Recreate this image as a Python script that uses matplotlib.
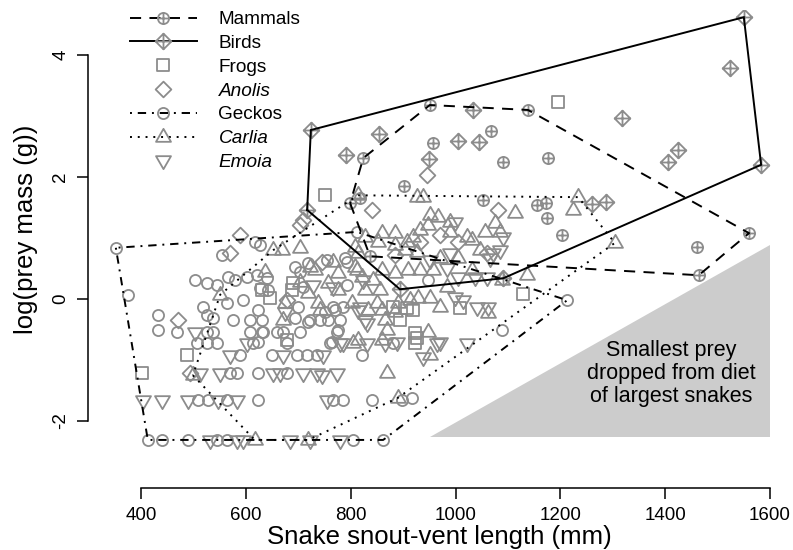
import numpy as np
import matplotlib
matplotlib.use("Agg")
import matplotlib.pyplot as plt
from matplotlib.path import Path
from matplotlib.lines import Line2D

plt.rcParams["font.family"] = ["Liberation Sans", "DejaVu Sans"]
plt.rcParams["lines.scale_dashes"] = False

# ---- data: snake snout-vent length (mm) vs log prey mass (g) ----
mammal_x = [951, 1138, 1560, 1464, 1461, 824, 1068, 957, 1091, 1176, 902, 1052,
            1155, 1173, 1175, 1203, 818, 799, 837]
mammal_y = [3.18, 3.10, 1.08, 0.39, 0.85, 2.31, 2.75, 2.56, 2.25, 2.31, 1.85, 1.62,
            1.54, 1.57, 1.33, 1.05, 1.66, 1.57, 0.70]

bird_x = [724, 717, 894, 1091, 1583, 1550, 1524, 1318, 1424, 1405, 1260, 1287,
          854, 791, 1033, 1005, 1045, 950]
bird_y = [2.77, 1.46, 0.16, 0.34, 2.20, 4.62, 3.79, 2.97, 2.44, 2.25, 1.56, 1.59,
          2.70, 2.36, 3.10, 2.59, 2.57, 2.30]

frog_x = [1196, 751, 1129, 402, 488, 646, 690, 881, 894, 923, 923, 688, 679,
          907, 919, 1009, 927, 631]
frog_y = [3.23, 1.70, 0.08, -1.21, -0.92, 0.02, 0.26, -0.13, -0.34, -0.56, -0.72,
          0.15, -0.67, -0.15, -0.18, -0.15, -0.64, 0.15]

anolis_x = [589, 570, 703, 709, 841, 946, 471, 679, 745, 970, 1081, 1005, 1060,
            932, 493, 885]
anolis_y = [1.05, 0.75, 1.21, 1.30, 1.46, 2.03, -0.34, -0.02, 0.61, 1.05, 1.46,
            0.93, 0.75, 0.93, -1.21, 0.72]

gecko_x = [352, 812, 1213, 862, 413, 375, 440, 490, 545, 564, 804,
           617, 627, 555, 503, 526, 545, 566, 579, 602, 621, 640, 627, 642,
           432, 432, 469, 518, 526, 526, 537, 507, 526, 545,
           570, 583, 623, 679,
           509, 528, 564, 623, 766, 785, 841, 898, 917,
           709, 793, 703, 793, 700, 766, 785,
           537, 576, 608, 694, 719, 741, 757, 780,
           608, 633, 659, 671, 703, 774,
           614, 679, 761, 881,
           589, 650, 698, 717, 736, 822,
           751, 770, 722, 789, 755, 719, 694,
           623, 631, 631, 623, 776, 764, 1089, 948, 595, 564]
gecko_y = [0.84, 1.10, -0.02, -2.31, -2.31, 0.07, -2.31, -2.31, -2.31, -2.31, -2.31,
           0.93, 0.89, 0.72, 0.31, 0.26, 0.23, 0.36, 0.31, 0.36, 0.39, 0.34, 0.18, 0.15,
           -0.26, -0.51, -0.54, -0.13, -0.26, -0.54, -0.54, -0.72, -0.72, -0.72,
           -1.21, -1.21, -1.21, -1.21,
           -1.66, -1.66, -1.66, -1.66, -1.66, -1.66, -1.66, -1.66, -1.62,
           0.20, 0.23, 0.44, 0.61, -0.13, -0.13, -0.13,
           -0.31, -0.34, -0.34, -0.31, -0.38, -0.34, -0.34, -0.34,
           -0.54, -0.54, -0.54, -0.54, -0.54, -0.54,
           -0.72, -0.72, -0.72, -0.72,
           -0.92, -0.92, -0.92, -0.92, -0.92, -0.92,
           -0.21, -0.18, -0.34, 0.67, 0.64, 0.59, 0.52,
           -0.18, -0.34, -0.54, -0.70, -0.51, -0.70, -0.51, 0.31, -0.02, -0.07]

carlia_x = [814, 1234, 1304, 890, 719, 617, 499, 551, 652, 669, 703,
            927, 938, 1224, 1113, 869, 860, 804, 951, 850, 913, 865, 869, 814,
            833, 860, 885, 970, 1062, 948,
            951, 967, 989, 948, 932, 919, 907, 989, 1022, 1031, 1056, 1075, 1085,
            1047, 1005, 970, 904, 927, 909, 932, 957, 1031, 1089, 1136, 929, 951, 984,
            827, 860, 885, 852, 885, 808, 814, 722, 766, 812, 843, 732, 776, 808,
            637, 703, 757, 822, 860, 885, 719, 776, 827, 856, 675, 738, 803, 890,
            671, 741]
carlia_y = [1.70, 1.67, 0.92, -1.62, -2.31, -2.31, -1.25, 0.07, 0.80, 0.80, 0.84,
            1.67, 1.67, 1.46, 1.41, -1.21, -0.67, -0.72, -0.92, -0.07, -0.02, -0.34,
            -0.51, -0.67, -0.18, -0.18, -0.21, -0.13, -0.23, -0.54,
            1.38, 1.34, 1.26, 1.21, 1.13, 1.02, 0.93, 1.10, 1.02, 0.97, 1.10, 1.25, 1.10,
            0.80, 0.67, 0.67, 0.80, 0.77, 0.48, 0.48, 0.48, 0.48, 0.31, 0.39, 0.02, 0.02, 0.20,
            1.02, 1.08, 1.08, 0.93, 0.89, 0.85, 0.75, 0.52, 0.61, 0.48, 0.31, 0.48, 0.43, 0.52,
            0.44, 0.28, 0.26, 0.36, 0.48, 0.43, 0.10, 0.15, 0.15, 0.15, -0.07, -0.07, -0.07, -0.07,
            -0.34, -0.18]

emoia_x = [503, 824, 766, 728, 818, 831, 602, 780, 831, 965, 570, 671, 747,
           513, 551, 652, 665, 709, 736, 774, 745,
           404, 440, 490, 547, 583, 755,
           532, 583, 595, 684, 722, 780,
           675, 814, 827, 785, 865, 888,
           984, 1005, 1037, 1060, 1014, 1041, 1062, 999, 970, 1022, 938,
           989, 951, 1072, 1085, 1066, 1091, 999]
emoia_y = [-0.54, 0.31, 0.20, 0.23, -0.13, -0.39, -0.72, -0.72, -0.72, -0.72, -0.92, -0.92, -0.92,
           -1.21, -1.21, -1.21, -1.21, -1.21, -1.21, -1.21, -1.25,
           -1.66, -1.66, -1.66, -1.66, -1.66, -1.66,
           -2.31, -2.31, -2.31, -2.31, -2.31, -2.31,
           -0.21, -0.18, -0.34, -0.72, -0.72, -0.70,
           0.51, 0.36, 0.36, 0.36, -0.02, -0.13, -0.13, 0.03, -0.70, -0.72, -0.95,
           0.75, 0.64, 0.75, 0.80, 0.67, 1.02, 1.26]

# region of prey too small to be eaten by the largest snakes
shade_x = [951, 1600, 1600]
shade_y = [-2.26, -2.26, 0.89]

x_ticks = [400, 600, 800, 1000, 1200, 1400, 1600]
y_ticks = [-2, 0, 2, 4]

# ---- symbols (sizes in units of the circle radius, as in base-graphics pch) ----
def closed(pts):
    pts = list(pts) + [pts[0]]
    codes = [Path.MOVETO] + [Path.LINETO] * (len(pts) - 2) + [Path.CLOSEPOLY]
    return Path(pts, codes)

def seg(a, b):
    return Path([a, b], [Path.MOVETO, Path.LINETO])

s2 = np.sqrt(2)
t0, t1, t2 = 1.5551203, 1.5551203 * np.sqrt(3) / 2, 1.5551203 / 2
sym_circle = Path.unit_circle()
sym_square = closed([(-1, -1), (1, -1), (1, 1), (-1, 1)])
sym_tri_up = closed([(0, t0), (t1, -t2), (-t1, -t2)])
sym_tri_dn = closed([(0, -t0), (t1, t2), (-t1, t2)])
sym_diamond = closed([(0, s2), (s2, 0), (0, -s2), (-s2, 0)])
sym_diamond_plus = Path.make_compound_path(sym_diamond, seg((-s2, 0), (s2, 0)),
                                           seg((0, -s2), (0, s2)))
sym_circle_plus = Path.make_compound_path(sym_circle, seg((-1, 0), (1, 0)),
                                          seg((0, -1), (0, 1)))

R_PT = 4.0          # circle radius in points
GREY = "#8c8c8c"
MEW = 1.3

def msize(p):
    return 2 * R_PT * np.abs(p.vertices).max()

def hull(xs, ys):
    pts = sorted(set(zip(xs, ys)))
    def cross(o, a, b):
        return (a[0] - o[0]) * (b[1] - o[1]) - (a[1] - o[1]) * (b[0] - o[0])
    lower, upper = [], []
    for p in pts:
        while len(lower) >= 2 and cross(lower[-2], lower[-1], p) <= 0:
            lower.pop()
        lower.append(p)
    for p in reversed(pts):
        while len(upper) >= 2 and cross(upper[-2], upper[-1], p) <= 0:
            upper.pop()
        upper.append(p)
    h = lower[:-1] + upper[:-1]
    h.append(h[0])
    return [p[0] for p in h], [p[1] for p in h]

groups = [
    ("Mammals", mammal_x, mammal_y, sym_circle_plus, (0, (8, 6)), False),
    ("Birds", bird_x, bird_y, sym_diamond_plus, "-", False),
    ("Frogs", frog_x, frog_y, sym_square, None, False),
    ("Anolis", anolis_x, anolis_y, sym_diamond, None, True),
    ("Geckos", gecko_x, gecko_y, sym_circle, (0, (1.4, 4.2, 6, 4.2)), False),
    ("Carlia", carlia_x, carlia_y, sym_tri_up, (0, (1.4, 4.2)), True),
    ("Emoia", emoia_x, emoia_y, sym_tri_dn, None, True),
]

fig = plt.figure(figsize=(7.93, 5.5), dpi=100)
ax = fig.add_axes([88 / 793, 62 / 550, (790 - 88) / 793, (488 - 10) / 550])
ax.set_xlim(298.9, 1638.1)
ax.set_ylim(-3.098, 4.738)

ax.fill(shade_x, shade_y, color="#cccccc", lw=0, zorder=1)
ax.text(1411, -1.22, "Smallest prey\ndropped from diet\nof largest snakes",
        ha="center", va="center", fontsize=15.5, linespacing=1.13, zorder=2)

LW = 1.4
handles = []
for name, xs, ys, sym, ls, ital in groups:
    ax.plot(xs, ys, ls="none", marker=sym, ms=msize(sym), mfc="none",
            mec=GREY, mew=MEW, zorder=3)
for name, xs, ys, sym, ls, ital in groups:
    if ls is not None:
        hx, hy = hull(xs, ys)
        ax.plot(hx, hy, color="black", lw=LW, ls=ls, zorder=4,
                solid_joinstyle="miter", dash_capstyle="butt")
    handles.append(Line2D([], [], color="black", lw=LW if ls else 0,
                          ls=ls if ls else "none", marker=sym, ms=msize(sym),
                          mfc="none", mec=GREY, mew=MEW, label=name))

leg = fig.legend(handles=handles, loc="upper left",
                 bbox_to_anchor=(130 / 793, 1 - 11 / 550), frameon=False,
                 fontsize=13.7, handlelength=3.5, handletextpad=1.15,
                 labelspacing=0.34, borderpad=0, borderaxespad=0)
for txt, g in zip(leg.get_texts(), groups):
    if g[5]:
        txt.set_fontstyle("italic")

for side in ("top", "right"):
    ax.spines[side].set_visible(False)
ax.spines["left"].set_bounds(-2, 4)
ax.spines["bottom"].set_bounds(400, 1600)
for side in ("left", "bottom"):
    ax.spines[side].set_linewidth(1.1)
ax.set_xticks(x_ticks)
ax.set_yticks(y_ticks)
ax.set_xticklabels([str(v) for v in x_ticks])
ax.set_yticklabels([str(v) for v in y_ticks])
ax.tick_params(axis="both", length=8, width=1.1, labelsize=13.5)
ax.tick_params(axis="x", pad=5.5)
ax.tick_params(axis="y", pad=5.5)
for lbl in ax.get_yticklabels():
    lbl.set_rotation(90)
    lbl.set_va("center")

ax.set_xlabel("Snake snout-vent length (mm)", fontsize=18.5)
ax.xaxis.set_label_coords(0.5, (488 - 525) / 478)
ax.set_ylabel("log(prey mass (g))", fontsize=18.5)
ax.yaxis.set_label_coords((38 - 88) / 702, (488 - 229) / 478)

fig.savefig("out.png", dpi=100)
